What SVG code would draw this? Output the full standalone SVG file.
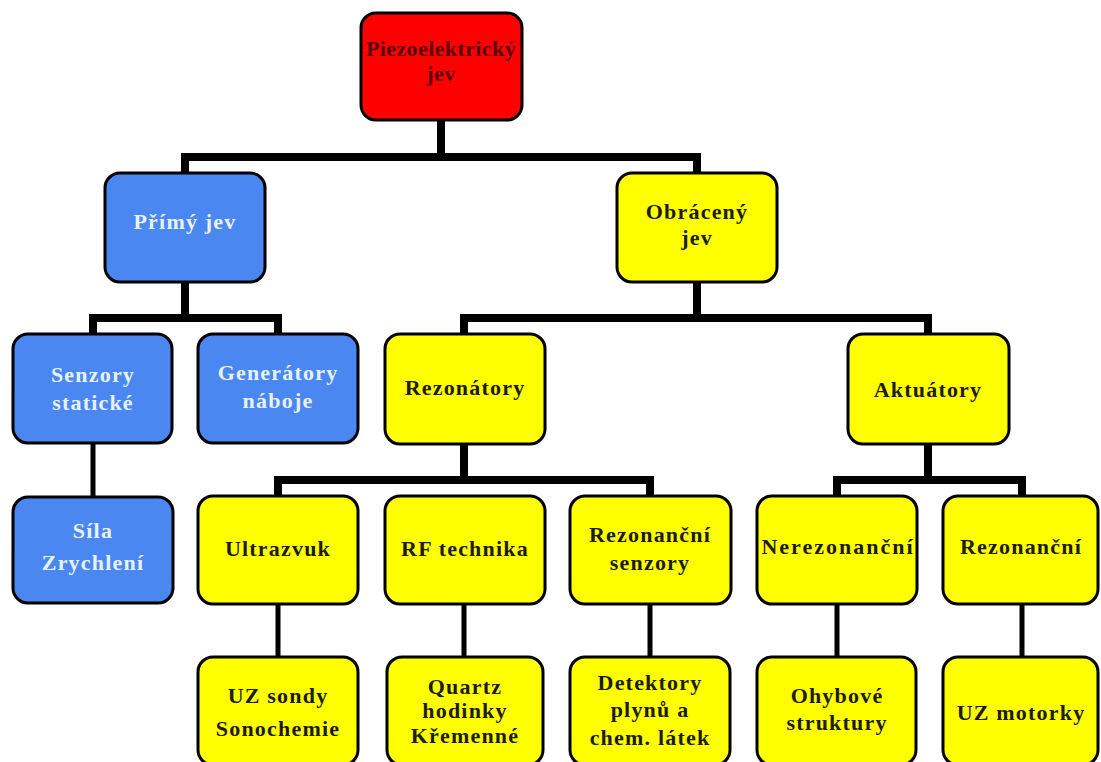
<svg xmlns="http://www.w3.org/2000/svg" width="1101" height="762" viewBox="0 0 1101 762">
  <style>
    .box { stroke: #000; stroke-width: 3; }
    .red { fill: #ff0000; }
    .blue { fill: #4b87f0; }
    .yellow { fill: #ffff00; }
    text { font-family: "Liberation Serif", "Times New Roman", serif; font-weight: bold; font-size: 22px; letter-spacing: 1.2px; text-anchor: middle; }
    .tb { fill: #e6f2ff; }
    .ty { fill: #1c1c08; }
    .tr { fill: #5a0000; font-size: 22px; letter-spacing: 0.4px; }
    .wide { letter-spacing: 2px; }
    .wire { stroke: #000; stroke-width: 8; fill: none; stroke-linecap: butt; }
    .thin { stroke-width: 5; }
  </style>
  <rect width="1101" height="762" fill="#ffffff"/>

  <!-- connectors -->
  <g id="connectors">
    <path class="wire" d="M441 120 V157 M181 157 H701 M185 153 V173 M697 153 V173"/>
    <path class="wire" d="M185 282 V318 M89 318 H282 M93 314 V334 M278 314 V334"/>
    <path class="wire" d="M697 282 V318 M460 318 H932 M464 314 V334 M928 314 V334"/>
    <path class="wire" d="M464 444 V480 M274 480 H654 M278 476 V496 M650 476 V496"/>
    <path class="wire" d="M928 444 V480 M833 480 H1026 M837 476 V496 M1022 476 V496"/>
    <path class="wire thin" d="M93 443 V497"/>
    <path class="wire thin" d="M278 604 V657 M464 604 V657 M650 604 V657 M837 604 V657 M1022 604 V657"/>
  </g>

  <!-- level 0 -->
  <g id="piezo">
    <rect class="box red" x="361" y="13" width="161" height="107" rx="15"/>
    <text class="tr" x="441" y="56">Piezoelektrický</text>
    <text class="tr" x="441" y="81">jev</text>
  </g>

  <!-- level 1 -->
  <g id="primy">
    <rect class="box blue" x="105" y="173" width="160" height="109" rx="15"/>
    <text class="tb" x="185" y="229">Přímý jev</text>
  </g>
  <g id="obraceny">
    <rect class="box yellow" x="617" y="173" width="160" height="109" rx="15"/>
    <text class="ty" x="697" y="219">Obrácený</text>
    <text class="ty" x="697" y="245">jev</text>
  </g>

  <!-- level 2 -->
  <g id="senzory-staticke">
    <rect class="box blue" x="13" y="334" width="159" height="109" rx="15"/>
    <text class="tb" x="93" y="382">Senzory</text>
    <text class="tb" x="93" y="410">statické</text>
  </g>
  <g id="generatory">
    <rect class="box blue" x="198" y="334" width="160" height="109" rx="15"/>
    <text class="tb" x="278" y="380">Generátory</text>
    <text class="tb" x="278" y="408">náboje</text>
  </g>
  <g id="rezonatory">
    <rect class="box yellow" x="385" y="334" width="160" height="110" rx="15"/>
    <text class="ty" x="465" y="395">Rezonátory</text>
  </g>
  <g id="aktuatory">
    <rect class="box yellow" x="848" y="334" width="161" height="110" rx="15"/>
    <text class="ty" x="928" y="397">Aktuátory</text>
  </g>

  <!-- level 3 -->
  <g id="sila">
    <rect class="box blue" x="13" y="497" width="160" height="106" rx="15"/>
    <text class="tb" x="93" y="538">Síla</text>
    <text class="tb" x="93" y="570">Zrychlení</text>
  </g>
  <g id="ultrazvuk">
    <rect class="box yellow" x="198" y="496" width="160" height="108" rx="15"/>
    <text class="ty" x="278" y="556">Ultrazvuk</text>
  </g>
  <g id="rf-technika">
    <rect class="box yellow" x="385" y="496" width="160" height="108" rx="15"/>
    <text class="ty" x="465" y="556">RF technika</text>
  </g>
  <g id="rezonancni-senzory">
    <rect class="box yellow" x="570" y="496" width="161" height="108" rx="15"/>
    <text class="ty" x="650" y="542">Rezonanční</text>
    <text class="ty" x="650" y="570">senzory</text>
  </g>
  <g id="nerezonancni">
    <rect class="box yellow" x="757" y="496" width="160" height="108" rx="15"/>
    <text class="ty wide" x="838" y="554">Nerezonanční</text>
  </g>
  <g id="rezonancni">
    <rect class="box yellow" x="943" y="496" width="155" height="108" rx="15"/>
    <text class="ty" x="1021" y="554">Rezonanční</text>
  </g>

  <!-- level 4 -->
  <g id="uz-sondy">
    <rect class="box yellow" x="198" y="657" width="160" height="108" rx="15"/>
    <text class="ty" x="278" y="703">UZ sondy</text>
    <text class="ty" x="278" y="736">Sonochemie</text>
  </g>
  <g id="quartz">
    <rect class="box yellow" x="387" y="657" width="156" height="108" rx="15"/>
    <text class="ty" x="465" y="694">Quartz</text>
    <text class="ty" x="465" y="718">hodinky</text>
    <text class="ty" x="465" y="743">Křemenné</text>
  </g>
  <g id="detektory">
    <rect class="box yellow" x="570" y="657" width="160" height="108" rx="15"/>
    <text class="ty" x="650" y="690">Detektory</text>
    <text class="ty" x="650" y="717">plynů a</text>
    <text class="ty" x="650" y="745">chem. látek</text>
  </g>
  <g id="ohybove">
    <rect class="box yellow" x="757" y="657" width="159" height="108" rx="15"/>
    <text class="ty" x="837" y="703">Ohybové</text>
    <text class="ty" x="837" y="730">struktury</text>
  </g>
  <g id="uz-motorky">
    <rect class="box yellow" x="943" y="657" width="155" height="108" rx="15"/>
    <text class="ty" x="1021" y="720">UZ motorky</text>
  </g>
</svg>
